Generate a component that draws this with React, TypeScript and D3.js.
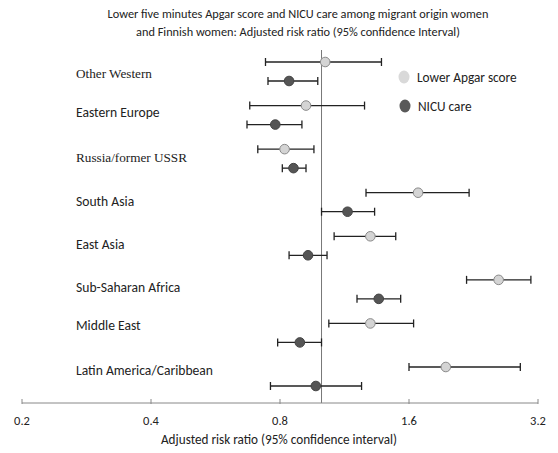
import { useEffect, useRef } from "react";
import * as d3 from "d3";

// regions (top to bottom)
const regions = [
  "Other Western",
  "Eastern Europe",
  "Russia/former USSR",
  "South Asia",
  "East Asia",
  "Sub-Saharan Africa",
  "Middle East",
  "Latin America/Caribbean",
];
// the two labels that are set in a serif face in the original
const serifLabels = ["Other Western", "Russia/former USSR"];

// Lower Apgar score: risk ratio and 95% CI
const apgarRR = [1.02, 0.92, 0.82, 1.68, 1.3, 2.59, 1.3, 1.95];
const apgarLow = [0.74, 0.68, 0.71, 1.27, 1.07, 2.18, 1.04, 1.6];
const apgarHigh = [1.38, 1.26, 0.96, 2.21, 1.49, 3.08, 1.64, 2.91];

// NICU care: risk ratio and 95% CI
const nicuRR = [0.84, 0.78, 0.86, 1.15, 0.93, 1.36, 0.89, 0.97];
const nicuLow = [0.75, 0.67, 0.81, 1.0, 0.84, 1.21, 0.79, 0.76];
const nicuHigh = [0.98, 0.9, 0.92, 1.33, 1.03, 1.53, 1.0, 1.24];

const tickValues = [0.2, 0.4, 0.8, 1.6, 3.2];

const App = () => {
  const svgRef = useRef<SVGSVGElement>(null);

  useEffect(() => {
    const width = 558;
    const height = 453;
    const svg = d3.select(svgRef.current).attr("width", width).attr("height", height);
    svg.selectAll("*").remove();

    const x = d3.scaleLog().base(2).domain([0.2, 3.2]).range([22, 538]);
    // each region has two rows: Apgar then NICU
    const yRow = d3.scaleLinear().domain([0, 7]).range([62, 367]);
    const rowGap = 19;
    const axisY = 403;
    // the labels in the original don't sit at a fixed offset from their rows
    const labelY = [73, 112, 157, 201, 244, 287, 325, 370];

    const sans = "Carlito, Lato, 'Open Sans', sans-serif";

    // title
    const title = svg
      .append("text")
      .attr("text-anchor", "middle")
      .style("font-family", sans)
      .style("font-size", "12.3px")
      .style("fill", "#222");
    title.append("tspan").attr("x", 298).attr("y", 17.5).text("Lower five minutes Apgar score and NICU care among migrant origin women");
    title.append("tspan").attr("x", 298).attr("y", 35.5).text("and Finnish women: Adjusted risk ratio (95% confidence Interval)");

    // reference line at 1
    svg
      .append("line")
      .attr("x1", x(1))
      .attr("x2", x(1))
      .attr("y1", 50)
      .attr("y2", axisY)
      .style("stroke", "#777")
      .style("stroke-width", 1);

    // x axis
    svg
      .append("line")
      .attr("x1", x(0.2))
      .attr("x2", x(3.2))
      .attr("y1", axisY)
      .attr("y2", axisY)
      .style("stroke", "#888")
      .style("stroke-width", 1);

    svg
      .selectAll(".tick")
      .data(tickValues)
      .enter()
      .append("line")
      .attr("x1", (d) => x(d))
      .attr("x2", (d) => x(d))
      .attr("y1", axisY - 4)
      .attr("y2", axisY + 1)
      .style("stroke", "#888");

    svg
      .selectAll(".tickLabel")
      .data(tickValues)
      .enter()
      .append("text")
      .attr("x", (d) => x(d))
      .attr("y", 425)
      .attr("text-anchor", "middle")
      .style("font-family", sans)
      .style("font-size", "12.5px")
      .style("fill", "#222")
      .text((d) => d.toFixed(1));

    svg
      .append("text")
      .attr("x", 279)
      .attr("y", 444)
      .attr("text-anchor", "middle")
      .style("font-family", sans)
      .style("font-size", "13.2px")
      .style("fill", "#222")
      .text("Adjusted risk ratio (95% confidence interval)");

    // region labels
    svg
      .selectAll(".region")
      .data(regions)
      .enter()
      .append("text")
      .attr("x", 76)
      .attr("y", (d, i) => labelY[i] + 4.5)
      .style("font-family", (d) =>
        serifLabels.includes(d) ? "'Liberation Serif', 'Times New Roman', serif" : sans
      )
      .style("font-size", (d) => (serifLabels.includes(d) ? "13.2px" : "13.6px"))
      .style("fill", "#222")
      .text((d) => d);

    const drawSeries = (
      rr: number[],
      low: number[],
      high: number[],
      offset: number,
      fill: string,
      stroke: string
    ) => {
      const g = svg.append("g");
      const rows = g
        .selectAll("g")
        .data(regions)
        .enter()
        .append("g")
        .attr("transform", (d, i) => `translate(0,${yRow(i) + offset})`);

      rows
        .append("line")
        .attr("x1", (d, i) => x(low[i]))
        .attr("x2", (d, i) => x(high[i]))
        .style("stroke", "#222")
        .style("stroke-width", 1.3);
      rows
        .append("line")
        .attr("x1", (d, i) => x(low[i]))
        .attr("x2", (d, i) => x(low[i]))
        .attr("y1", -4)
        .attr("y2", 4)
        .style("stroke", "#222")
        .style("stroke-width", 1.3);
      rows
        .append("line")
        .attr("x1", (d, i) => x(high[i]))
        .attr("x2", (d, i) => x(high[i]))
        .attr("y1", -4)
        .attr("y2", 4)
        .style("stroke", "#222")
        .style("stroke-width", 1.3);
      rows
        .append("circle")
        .attr("cx", (d, i) => x(rr[i]))
        .attr("r", 4.8)
        .style("fill", fill)
        .style("stroke", stroke)
        .style("stroke-width", 1);
    };

    drawSeries(apgarRR, apgarLow, apgarHigh, 0, "#d4d4d4", "#8a8a8a");
    drawSeries(nicuRR, nicuLow, nicuHigh, rowGap, "#555555", "#444444");

    // legend
    const legend = [
      { label: "Lower Apgar score", color: "#d9d9d9", y: 77 },
      { label: "NICU care", color: "#595959", y: 106 },
    ];
    const lg = svg
      .selectAll(".legend")
      .data(legend)
      .enter()
      .append("g")
      .attr("transform", (d, i) => `translate(${404 + i},${d.y})`);
    lg.append("ellipse").attr("rx", 5.5).attr("ry", 6.5).style("fill", (d) => d.color);
    lg.append("text")
      .attr("x", 13)
      .attr("y", 4.5)
      .style("font-family", sans)
      .style("font-size", "13.3px")
      .style("fill", "#222")
      .text((d) => d.label);
  }, []);

  return (
    <div style={{ position: "fixed", left: 0, top: 0, background: "#fff" }}>
      <svg ref={svgRef}></svg>
    </div>
  );
};

export default App;
